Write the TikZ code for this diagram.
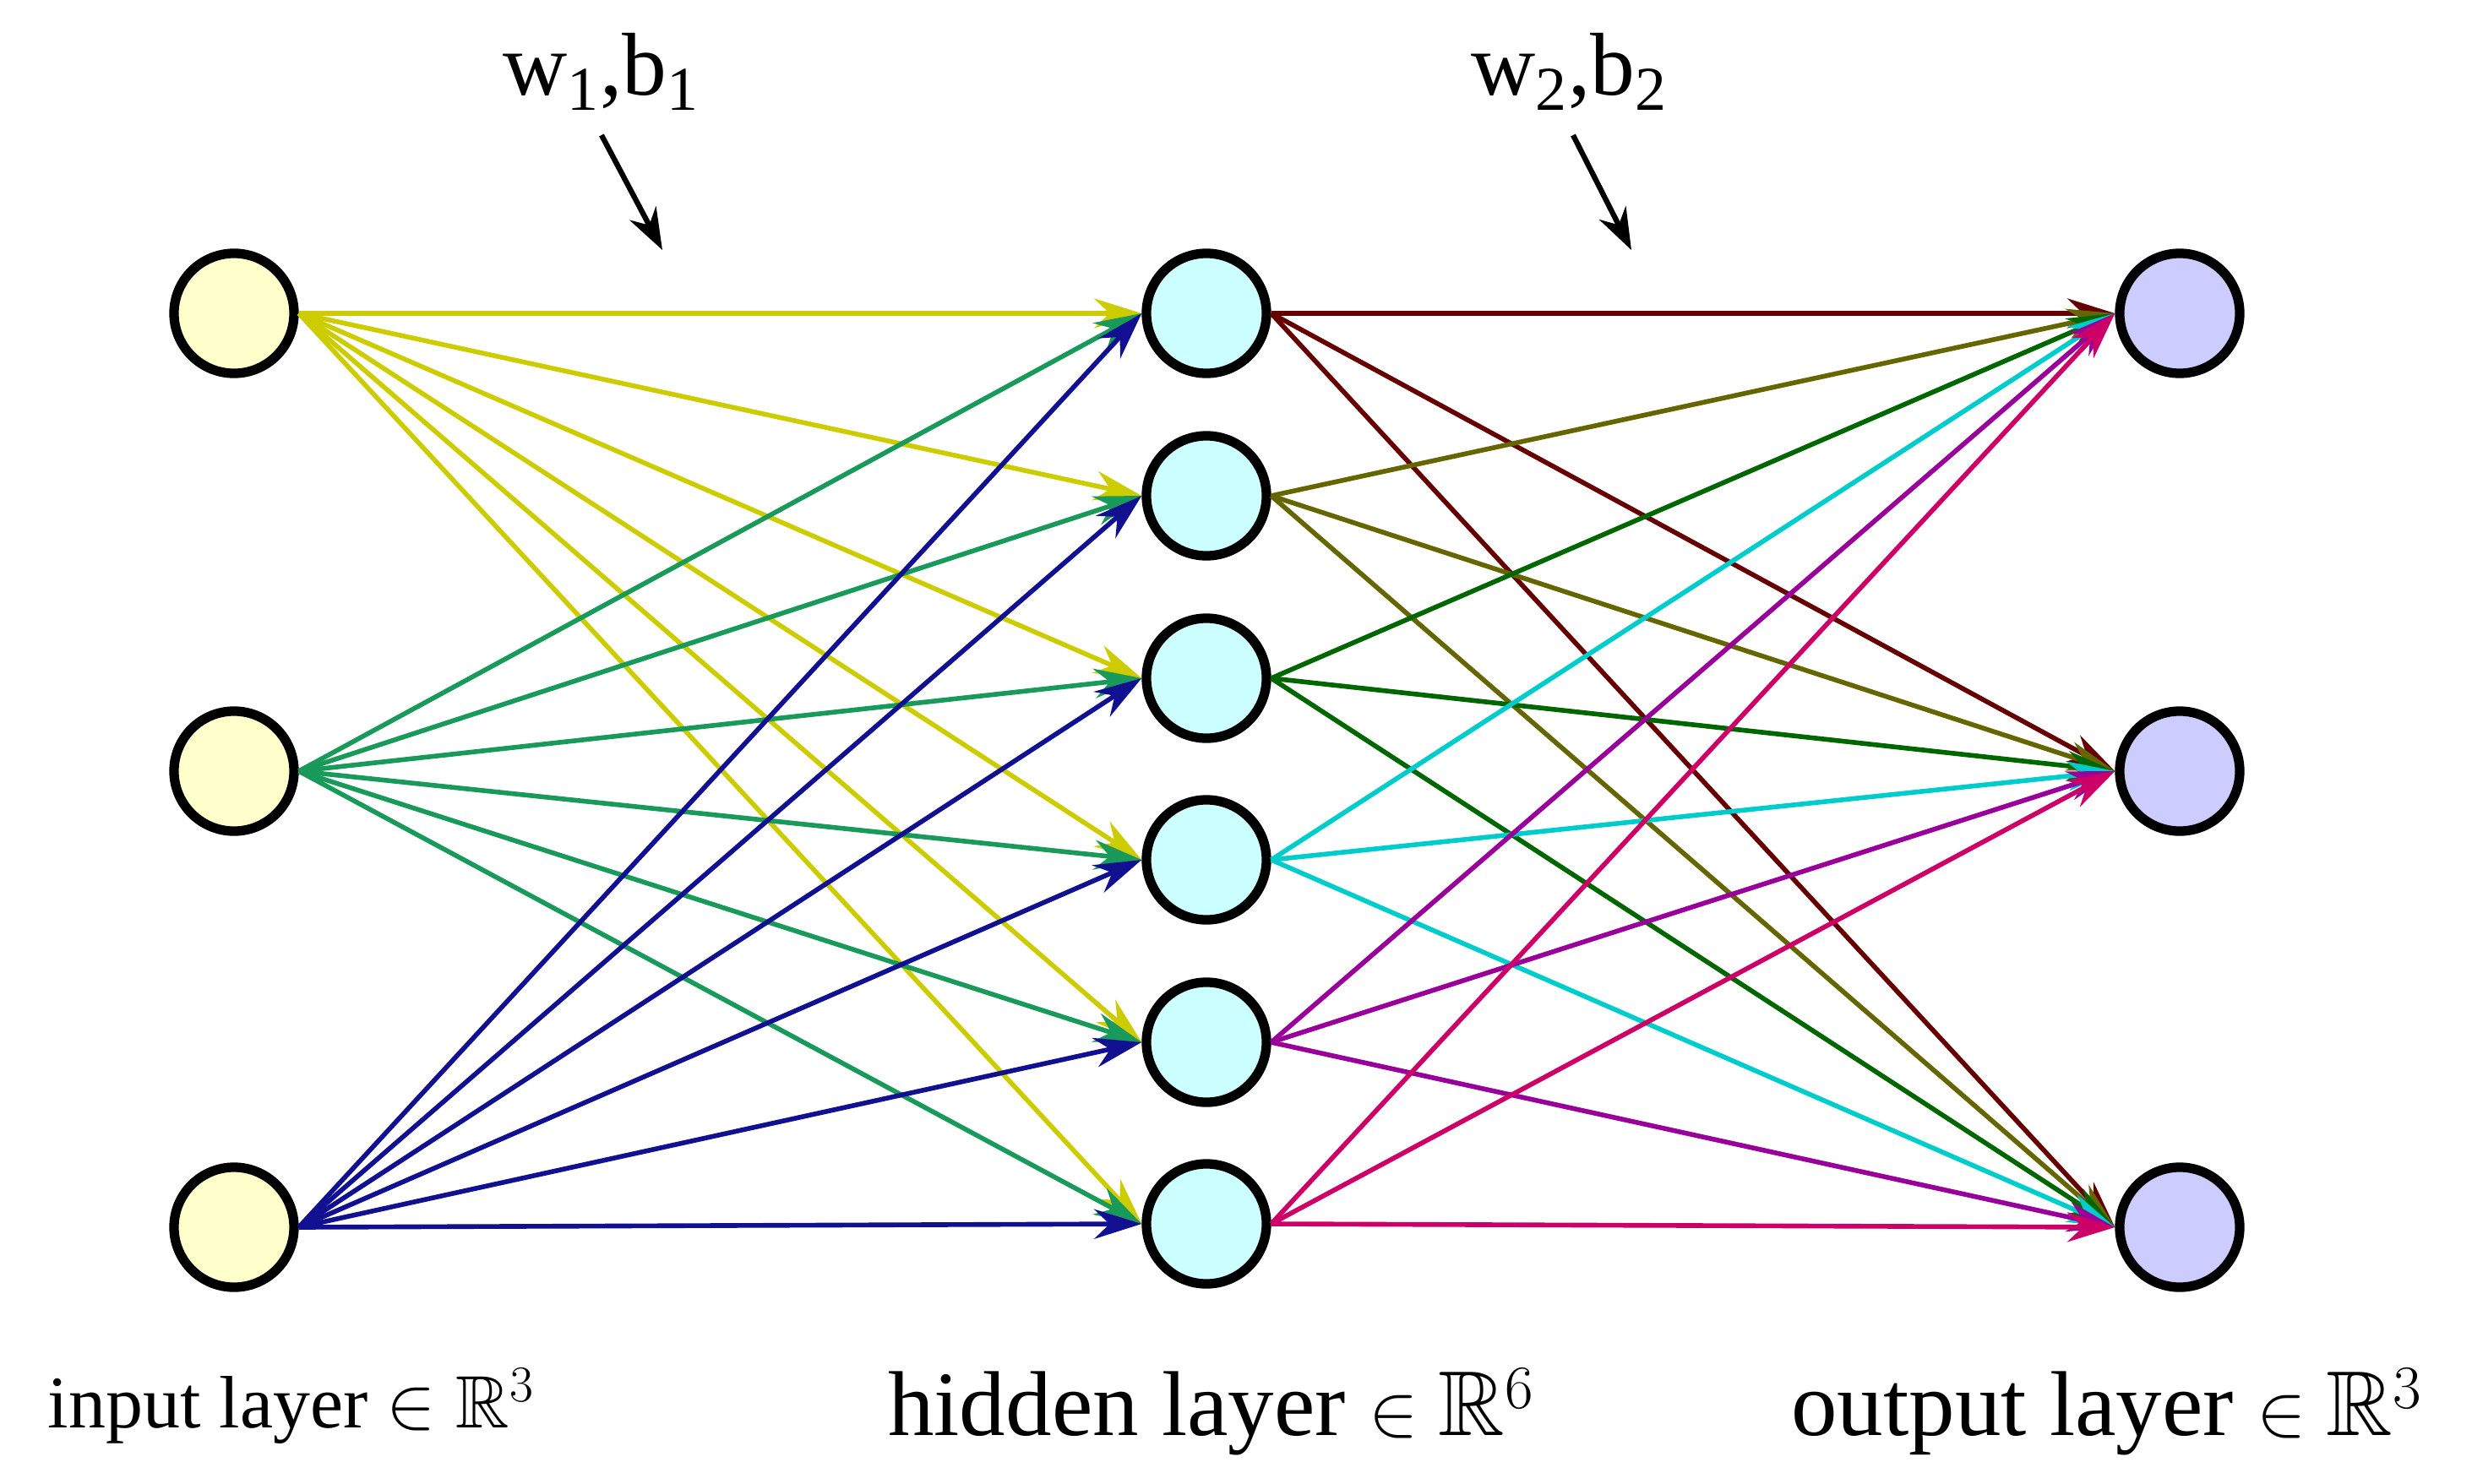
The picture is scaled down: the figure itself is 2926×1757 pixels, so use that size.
\documentclass[tikz,border=0pt]{standalone}
\usepackage{fontspec}
\usepackage{amssymb}
\setmainfont{Liberation Serif}
\usetikzlibrary{arrows.meta}
\definecolor{iy}{HTML}{CCCC00}\definecolor{ig}{HTML}{1A9A5A}\definecolor{ib}{HTML}{101090}
\definecolor{h1}{HTML}{660000}\definecolor{h2}{HTML}{666600}\definecolor{h3}{HTML}{006600}
\definecolor{h4}{HTML}{00CCCC}\definecolor{h5}{HTML}{990099}\definecolor{h6}{HTML}{CC0066}
\begin{document}
\begin{tikzpicture}[x=0.01cm,y=-0.01cm,
  neuron/.style={circle,draw=black,line width=3.2pt,minimum size=1.42cm,inner sep=0pt},
  edge/.style={line width=1.6pt,-{Stealth[length=16pt,width=10pt]}},
  lbl/.style={font=\fontsize{30}{36}\selectfont}]
\useasboundingbox (0,0) rectangle (2926,1757);
\foreach \i/\y in {1/371,2/913,3/1453} \node[neuron,fill={rgb,255:red,255;green,255;blue,204}] (i\i) at (277,\y) {};
\foreach \i/\y in {1/371,2/587,3/803,4/1018,5/1234,6/1449} \node[neuron,fill={rgb,255:red,204;green,255;blue,255}] (h\i) at (1428,\y) {};
\foreach \i/\y in {1/371,2/913,3/1453} \node[neuron,fill={rgb,255:red,204;green,204;blue,255}] (o\i) at (2580,\y) {};
\foreach \i/\c in {1/iy,2/ig,3/ib} \foreach \j in {1,...,6} \draw[edge,\c] (i\i.east) -- (h\j.west);
\foreach \j in {1,...,6} \foreach \k in {1,2,3} \draw[edge,h\j] (h\j.east) -- (o\k.west);
\node[lbl] (w1) at (712,85) {w$_\mathrm{1}$,b$_\mathrm{1}$};
\node[lbl] (w2) at (1858,85) {w$_\mathrm{2}$,b$_\mathrm{2}$};
\coordinate (w1e) at (784,296); \coordinate (w2e) at (1931,296);
\draw[line width=1.8pt,-{Stealth[length=14pt,width=10pt]}] (712,160) -- (w1e);
\draw[line width=1.8pt,-{Stealth[length=14pt,width=10pt]}] (1862,160) -- (w2e);
\node[font=\fontsize{25}{30}\selectfont] (li) at (345,1665) {input layer $\in\mathbb{R}^3$};
\node[font=\fontsize{31}{36}\selectfont] (lh) at (1434,1672) {hidden layer $\in\mathbb{R}^6$};
\node[font=\fontsize{31}{36}\selectfont] (lo) at (2494,1672) {output layer $\in\mathbb{R}^3$};
\end{tikzpicture}
\end{document}
